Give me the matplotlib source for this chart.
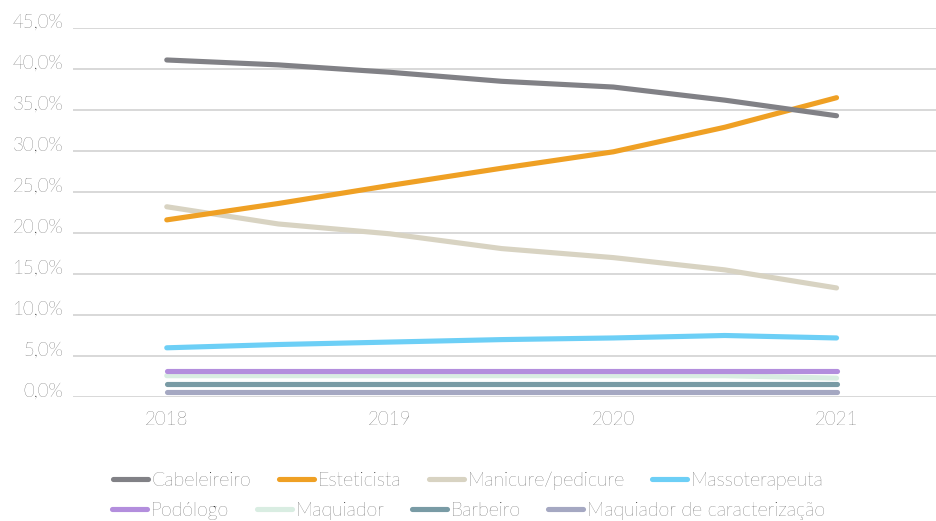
import matplotlib
matplotlib.use('Agg')
import matplotlib.pyplot as plt
from matplotlib.ticker import FuncFormatter

plt.rcParams['font.family'] = ['Lato', 'DejaVu Sans']

# dados (% por semestre)
years = [2018, 2018.5, 2019, 2019.5, 2020, 2020.5, 2021]
year_labels = ['2018', '2019', '2020', '2021']
cabeleireiro = [41.1, 40.5, 39.6, 38.5, 37.8, 36.2, 34.3]
esteticista = [21.6, 23.6, 25.8, 27.9, 29.9, 32.9, 36.5]
manicure = [23.2, 21.1, 19.9, 18.1, 17.0, 15.5, 13.3]
massoterapeuta = [6.0, 6.4, 6.7, 7.0, 7.2, 7.5, 7.2]
podologo = [3.2, 3.2, 3.2, 3.2, 3.2, 3.2, 3.2]
maquiador = [2.6, 2.6, 2.6, 2.6, 2.6, 2.6, 2.3]
barbeiro = [1.6, 1.6, 1.6, 1.6, 1.6, 1.6, 1.6]
caracterizacao = [0.6, 0.6, 0.6, 0.6, 0.6, 0.6, 0.6]

names = ['Cabeleireiro', 'Esteticista', 'Manicure/pedicure', 'Massoterapeuta',
         'Podólogo', 'Maquiador', 'Barbeiro', 'Maquiador de caracterização']
series = [cabeleireiro, esteticista, manicure, massoterapeuta,
          podologo, maquiador, barbeiro, caracterizacao]
colors = ['#818186', '#EFA024', '#D8D3C2', '#6DCFF6',
          '#B38EDD', '#D9EDE2', '#799BA5', '#A5A8C2']

txt = '#1E1E1E'
peso = 'light'

fig = plt.figure(figsize=(9.37, 5.21), dpi=100)
ax = fig.add_axes([73 / 937, 1 - 397 / 521, 1 - 73 / 937, (397 - 28) / 521])

handles = []
for i, (name, vals, c) in enumerate(zip(names, series, colors)):
    h, = ax.plot(years, vals, color=c, lw=3.7, solid_capstyle='round',
                 label=name, zorder=10 - i)
    handles.append(h)

ax.set_ylim(0, 45)
ax.set_xlim(2017.58, 2021.45)
ax.set_yticks(range(0, 46, 5))
ax.yaxis.set_major_formatter(FuncFormatter(lambda v, p: f'{v:.1f}%'.replace('.', ',')))
ax.set_xticks([2018, 2019, 2020, 2021])
ax.set_xticklabels(year_labels)
ax.grid(axis='y', color='#D2D2D2', lw=1.2)
ax.set_axisbelow(True)
for s in ax.spines.values():
    s.set_visible(False)
ax.tick_params(length=0, labelsize=13.5, colors=txt)
ax.tick_params(axis='y', pad=7)
ax.tick_params(axis='x', pad=10)
for lab in ax.get_xticklabels() + ax.get_yticklabels():
    lab.set_fontweight(peso)
for lab in ax.get_yticklabels():
    lab.set_va('baseline')

# legenda em duas linhas centralizadas
for hs, yy in [(handles[:4], 1 - 481 / 521), (handles[4:], 1 - 511 / 521)]:
    fig.legend(handles=hs, loc='center', bbox_to_anchor=(0.5, yy), ncol=4,
               frameon=False, handlelength=1.8, handletextpad=0.2,
               columnspacing=1.4, labelcolor=txt,
               prop={'size': 14, 'weight': peso})

fig.savefig('out.png', dpi=100)
